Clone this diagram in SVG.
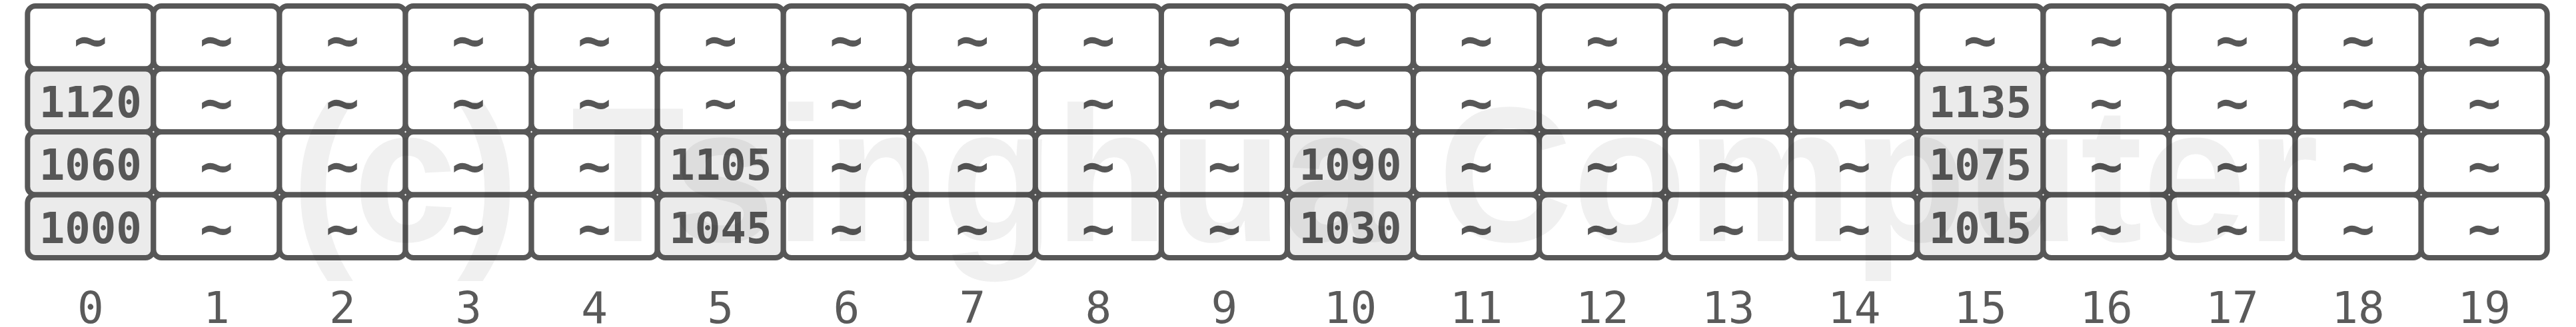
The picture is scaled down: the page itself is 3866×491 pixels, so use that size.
<svg xmlns="http://www.w3.org/2000/svg" width="3866" height="491" viewBox="0 0 3866 491">
<style>
.c{fill:#ffffff;stroke:#575757;stroke-width:8}
.g{fill:#ebebeb;stroke:#575757;stroke-width:8}
.t{font-family:"DejaVu Sans Mono",monospace;font-weight:bold;font-size:64px;fill:#575757;text-anchor:middle}
.s{font-family:"DejaVu Sans Mono",monospace;font-weight:bold;font-size:84px;fill:#575757;text-anchor:middle}
.i{font-family:"DejaVu Sans Mono",monospace;font-size:66px;fill:#5a5a5a;text-anchor:middle}
.w{font-family:"Liberation Sans",Arial,sans-serif;font-weight:bold;font-size:289px;fill:#000;fill-opacity:0.06}
</style>
<rect width="3866" height="491" fill="#ffffff"/>
<g id="cells">
<g id="c0r0"><rect class="c" x="41.3" y="9" width="189.07" height="94.5" rx="12"/><text class="s" x="135.8" y="88.5">~</text></g>
<g id="c0r1"><rect class="g" x="41.3" y="103.5" width="189.07" height="94.5" rx="12"/><text class="t" x="135.8" y="175.75">1120</text></g>
<g id="c0r2"><rect class="g" x="41.3" y="198" width="189.07" height="94.5" rx="12"/><text class="t" x="135.8" y="270.25">1060</text></g>
<g id="c0r3"><rect class="g" x="41.3" y="292.5" width="189.07" height="94.5" rx="12"/><text class="t" x="135.8" y="364.75">1000</text></g>
<g id="c1r0"><rect class="c" x="230.37" y="9" width="189.07" height="94.5" rx="12"/><text class="s" x="324.9" y="88.5">~</text></g>
<g id="c1r1"><rect class="c" x="230.37" y="103.5" width="189.07" height="94.5" rx="12"/><text class="s" x="324.9" y="183">~</text></g>
<g id="c1r2"><rect class="c" x="230.37" y="198" width="189.07" height="94.5" rx="12"/><text class="s" x="324.9" y="277.5">~</text></g>
<g id="c1r3"><rect class="c" x="230.37" y="292.5" width="189.07" height="94.5" rx="12"/><text class="s" x="324.9" y="372">~</text></g>
<g id="c2r0"><rect class="c" x="419.44" y="9" width="189.07" height="94.5" rx="12"/><text class="s" x="513.98" y="88.5">~</text></g>
<g id="c2r1"><rect class="c" x="419.44" y="103.5" width="189.07" height="94.5" rx="12"/><text class="s" x="513.98" y="183">~</text></g>
<g id="c2r2"><rect class="c" x="419.44" y="198" width="189.07" height="94.5" rx="12"/><text class="s" x="513.98" y="277.5">~</text></g>
<g id="c2r3"><rect class="c" x="419.44" y="292.5" width="189.07" height="94.5" rx="12"/><text class="s" x="513.98" y="372">~</text></g>
<g id="c3r0"><rect class="c" x="608.51" y="9" width="189.07" height="94.5" rx="12"/><text class="s" x="703.05" y="88.5">~</text></g>
<g id="c3r1"><rect class="c" x="608.51" y="103.5" width="189.07" height="94.5" rx="12"/><text class="s" x="703.05" y="183">~</text></g>
<g id="c3r2"><rect class="c" x="608.51" y="198" width="189.07" height="94.5" rx="12"/><text class="s" x="703.05" y="277.5">~</text></g>
<g id="c3r3"><rect class="c" x="608.51" y="292.5" width="189.07" height="94.5" rx="12"/><text class="s" x="703.05" y="372">~</text></g>
<g id="c4r0"><rect class="c" x="797.58" y="9" width="189.07" height="94.5" rx="12"/><text class="s" x="892.12" y="88.5">~</text></g>
<g id="c4r1"><rect class="c" x="797.58" y="103.5" width="189.07" height="94.5" rx="12"/><text class="s" x="892.12" y="183">~</text></g>
<g id="c4r2"><rect class="c" x="797.58" y="198" width="189.07" height="94.5" rx="12"/><text class="s" x="892.12" y="277.5">~</text></g>
<g id="c4r3"><rect class="c" x="797.58" y="292.5" width="189.07" height="94.5" rx="12"/><text class="s" x="892.12" y="372">~</text></g>
<g id="c5r0"><rect class="c" x="986.65" y="9" width="189.07" height="94.5" rx="12"/><text class="s" x="1081.19" y="88.5">~</text></g>
<g id="c5r1"><rect class="c" x="986.65" y="103.5" width="189.07" height="94.5" rx="12"/><text class="s" x="1081.19" y="183">~</text></g>
<g id="c5r2"><rect class="g" x="986.65" y="198" width="189.07" height="94.5" rx="12"/><text class="t" x="1081.19" y="270.25">1105</text></g>
<g id="c5r3"><rect class="g" x="986.65" y="292.5" width="189.07" height="94.5" rx="12"/><text class="t" x="1081.19" y="364.75">1045</text></g>
<g id="c6r0"><rect class="c" x="1175.72" y="9" width="189.07" height="94.5" rx="12"/><text class="s" x="1270.26" y="88.5">~</text></g>
<g id="c6r1"><rect class="c" x="1175.72" y="103.5" width="189.07" height="94.5" rx="12"/><text class="s" x="1270.26" y="183">~</text></g>
<g id="c6r2"><rect class="c" x="1175.72" y="198" width="189.07" height="94.5" rx="12"/><text class="s" x="1270.26" y="277.5">~</text></g>
<g id="c6r3"><rect class="c" x="1175.72" y="292.5" width="189.07" height="94.5" rx="12"/><text class="s" x="1270.26" y="372">~</text></g>
<g id="c7r0"><rect class="c" x="1364.79" y="9" width="189.07" height="94.5" rx="12"/><text class="s" x="1459.33" y="88.5">~</text></g>
<g id="c7r1"><rect class="c" x="1364.79" y="103.5" width="189.07" height="94.5" rx="12"/><text class="s" x="1459.33" y="183">~</text></g>
<g id="c7r2"><rect class="c" x="1364.79" y="198" width="189.07" height="94.5" rx="12"/><text class="s" x="1459.33" y="277.5">~</text></g>
<g id="c7r3"><rect class="c" x="1364.79" y="292.5" width="189.07" height="94.5" rx="12"/><text class="s" x="1459.33" y="372">~</text></g>
<g id="c8r0"><rect class="c" x="1553.86" y="9" width="189.07" height="94.5" rx="12"/><text class="s" x="1648.4" y="88.5">~</text></g>
<g id="c8r1"><rect class="c" x="1553.86" y="103.5" width="189.07" height="94.5" rx="12"/><text class="s" x="1648.4" y="183">~</text></g>
<g id="c8r2"><rect class="c" x="1553.86" y="198" width="189.07" height="94.5" rx="12"/><text class="s" x="1648.4" y="277.5">~</text></g>
<g id="c8r3"><rect class="c" x="1553.86" y="292.5" width="189.07" height="94.5" rx="12"/><text class="s" x="1648.4" y="372">~</text></g>
<g id="c9r0"><rect class="c" x="1742.93" y="9" width="189.07" height="94.5" rx="12"/><text class="s" x="1837.47" y="88.5">~</text></g>
<g id="c9r1"><rect class="c" x="1742.93" y="103.5" width="189.07" height="94.5" rx="12"/><text class="s" x="1837.47" y="183">~</text></g>
<g id="c9r2"><rect class="c" x="1742.93" y="198" width="189.07" height="94.5" rx="12"/><text class="s" x="1837.47" y="277.5">~</text></g>
<g id="c9r3"><rect class="c" x="1742.93" y="292.5" width="189.07" height="94.5" rx="12"/><text class="s" x="1837.47" y="372">~</text></g>
<g id="c10r0"><rect class="c" x="1932" y="9" width="189.07" height="94.5" rx="12"/><text class="s" x="2026.54" y="88.5">~</text></g>
<g id="c10r1"><rect class="c" x="1932" y="103.5" width="189.07" height="94.5" rx="12"/><text class="s" x="2026.54" y="183">~</text></g>
<g id="c10r2"><rect class="g" x="1932" y="198" width="189.07" height="94.5" rx="12"/><text class="t" x="2026.54" y="270.25">1090</text></g>
<g id="c10r3"><rect class="g" x="1932" y="292.5" width="189.07" height="94.5" rx="12"/><text class="t" x="2026.54" y="364.75">1030</text></g>
<g id="c11r0"><rect class="c" x="2121.07" y="9" width="189.07" height="94.5" rx="12"/><text class="s" x="2215.61" y="88.5">~</text></g>
<g id="c11r1"><rect class="c" x="2121.07" y="103.5" width="189.07" height="94.5" rx="12"/><text class="s" x="2215.61" y="183">~</text></g>
<g id="c11r2"><rect class="c" x="2121.07" y="198" width="189.07" height="94.5" rx="12"/><text class="s" x="2215.61" y="277.5">~</text></g>
<g id="c11r3"><rect class="c" x="2121.07" y="292.5" width="189.07" height="94.5" rx="12"/><text class="s" x="2215.61" y="372">~</text></g>
<g id="c12r0"><rect class="c" x="2310.14" y="9" width="189.07" height="94.5" rx="12"/><text class="s" x="2404.68" y="88.5">~</text></g>
<g id="c12r1"><rect class="c" x="2310.14" y="103.5" width="189.07" height="94.5" rx="12"/><text class="s" x="2404.68" y="183">~</text></g>
<g id="c12r2"><rect class="c" x="2310.14" y="198" width="189.07" height="94.5" rx="12"/><text class="s" x="2404.68" y="277.5">~</text></g>
<g id="c12r3"><rect class="c" x="2310.14" y="292.5" width="189.07" height="94.5" rx="12"/><text class="s" x="2404.68" y="372">~</text></g>
<g id="c13r0"><rect class="c" x="2499.21" y="9" width="189.07" height="94.5" rx="12"/><text class="s" x="2593.75" y="88.5">~</text></g>
<g id="c13r1"><rect class="c" x="2499.21" y="103.5" width="189.07" height="94.5" rx="12"/><text class="s" x="2593.75" y="183">~</text></g>
<g id="c13r2"><rect class="c" x="2499.21" y="198" width="189.07" height="94.5" rx="12"/><text class="s" x="2593.75" y="277.5">~</text></g>
<g id="c13r3"><rect class="c" x="2499.21" y="292.5" width="189.07" height="94.5" rx="12"/><text class="s" x="2593.75" y="372">~</text></g>
<g id="c14r0"><rect class="c" x="2688.28" y="9" width="189.07" height="94.5" rx="12"/><text class="s" x="2782.82" y="88.5">~</text></g>
<g id="c14r1"><rect class="c" x="2688.28" y="103.5" width="189.07" height="94.5" rx="12"/><text class="s" x="2782.82" y="183">~</text></g>
<g id="c14r2"><rect class="c" x="2688.28" y="198" width="189.07" height="94.5" rx="12"/><text class="s" x="2782.82" y="277.5">~</text></g>
<g id="c14r3"><rect class="c" x="2688.28" y="292.5" width="189.07" height="94.5" rx="12"/><text class="s" x="2782.82" y="372">~</text></g>
<g id="c15r0"><rect class="c" x="2877.35" y="9" width="189.07" height="94.5" rx="12"/><text class="s" x="2971.89" y="88.5">~</text></g>
<g id="c15r1"><rect class="g" x="2877.35" y="103.5" width="189.07" height="94.5" rx="12"/><text class="t" x="2971.89" y="175.75">1135</text></g>
<g id="c15r2"><rect class="g" x="2877.35" y="198" width="189.07" height="94.5" rx="12"/><text class="t" x="2971.89" y="270.25">1075</text></g>
<g id="c15r3"><rect class="g" x="2877.35" y="292.5" width="189.07" height="94.5" rx="12"/><text class="t" x="2971.89" y="364.75">1015</text></g>
<g id="c16r0"><rect class="c" x="3066.42" y="9" width="189.07" height="94.5" rx="12"/><text class="s" x="3160.96" y="88.5">~</text></g>
<g id="c16r1"><rect class="c" x="3066.42" y="103.5" width="189.07" height="94.5" rx="12"/><text class="s" x="3160.96" y="183">~</text></g>
<g id="c16r2"><rect class="c" x="3066.42" y="198" width="189.07" height="94.5" rx="12"/><text class="s" x="3160.96" y="277.5">~</text></g>
<g id="c16r3"><rect class="c" x="3066.42" y="292.5" width="189.07" height="94.5" rx="12"/><text class="s" x="3160.96" y="372">~</text></g>
<g id="c17r0"><rect class="c" x="3255.49" y="9" width="189.07" height="94.5" rx="12"/><text class="s" x="3350.03" y="88.5">~</text></g>
<g id="c17r1"><rect class="c" x="3255.49" y="103.5" width="189.07" height="94.5" rx="12"/><text class="s" x="3350.03" y="183">~</text></g>
<g id="c17r2"><rect class="c" x="3255.49" y="198" width="189.07" height="94.5" rx="12"/><text class="s" x="3350.03" y="277.5">~</text></g>
<g id="c17r3"><rect class="c" x="3255.49" y="292.5" width="189.07" height="94.5" rx="12"/><text class="s" x="3350.03" y="372">~</text></g>
<g id="c18r0"><rect class="c" x="3444.56" y="9" width="189.07" height="94.5" rx="12"/><text class="s" x="3539.1" y="88.5">~</text></g>
<g id="c18r1"><rect class="c" x="3444.56" y="103.5" width="189.07" height="94.5" rx="12"/><text class="s" x="3539.1" y="183">~</text></g>
<g id="c18r2"><rect class="c" x="3444.56" y="198" width="189.07" height="94.5" rx="12"/><text class="s" x="3539.1" y="277.5">~</text></g>
<g id="c18r3"><rect class="c" x="3444.56" y="292.5" width="189.07" height="94.5" rx="12"/><text class="s" x="3539.1" y="372">~</text></g>
<g id="c19r0"><rect class="c" x="3633.63" y="9" width="189.07" height="94.5" rx="12"/><text class="s" x="3728.17" y="88.5">~</text></g>
<g id="c19r1"><rect class="c" x="3633.63" y="103.5" width="189.07" height="94.5" rx="12"/><text class="s" x="3728.17" y="183">~</text></g>
<g id="c19r2"><rect class="c" x="3633.63" y="198" width="189.07" height="94.5" rx="12"/><text class="s" x="3728.17" y="277.5">~</text></g>
<g id="c19r3"><rect class="c" x="3633.63" y="292.5" width="189.07" height="94.5" rx="12"/><text class="s" x="3728.17" y="372">~</text></g>
</g>
<g id="indices">
<text id="idx0" class="i" x="135.8" y="485">0</text>
<text id="idx1" class="i" x="324.9" y="485">1</text>
<text id="idx2" class="i" x="513.98" y="485">2</text>
<text id="idx3" class="i" x="703.05" y="485">3</text>
<text id="idx4" class="i" x="892.12" y="485">4</text>
<text id="idx5" class="i" x="1081.19" y="485">5</text>
<text id="idx6" class="i" x="1270.26" y="485">6</text>
<text id="idx7" class="i" x="1459.33" y="485">7</text>
<text id="idx8" class="i" x="1648.4" y="485">8</text>
<text id="idx9" class="i" x="1837.47" y="485">9</text>
<text id="idx10" class="i" x="2026.54" y="485">10</text>
<text id="idx11" class="i" x="2215.61" y="485">11</text>
<text id="idx12" class="i" x="2404.68" y="485">12</text>
<text id="idx13" class="i" x="2593.75" y="485">13</text>
<text id="idx14" class="i" x="2782.82" y="485">14</text>
<text id="idx15" class="i" x="2971.89" y="485">15</text>
<text id="idx16" class="i" x="3160.96" y="485">16</text>
<text id="idx17" class="i" x="3350.03" y="485">17</text>
<text id="idx18" class="i" x="3539.1" y="485">18</text>
<text id="idx19" class="i" x="3728.17" y="485">19</text>
</g>
<text id="watermark" class="w" x="437" y="362" textLength="3043" lengthAdjust="spacingAndGlyphs">(c) Tsinghua Computer</text>
</svg>
